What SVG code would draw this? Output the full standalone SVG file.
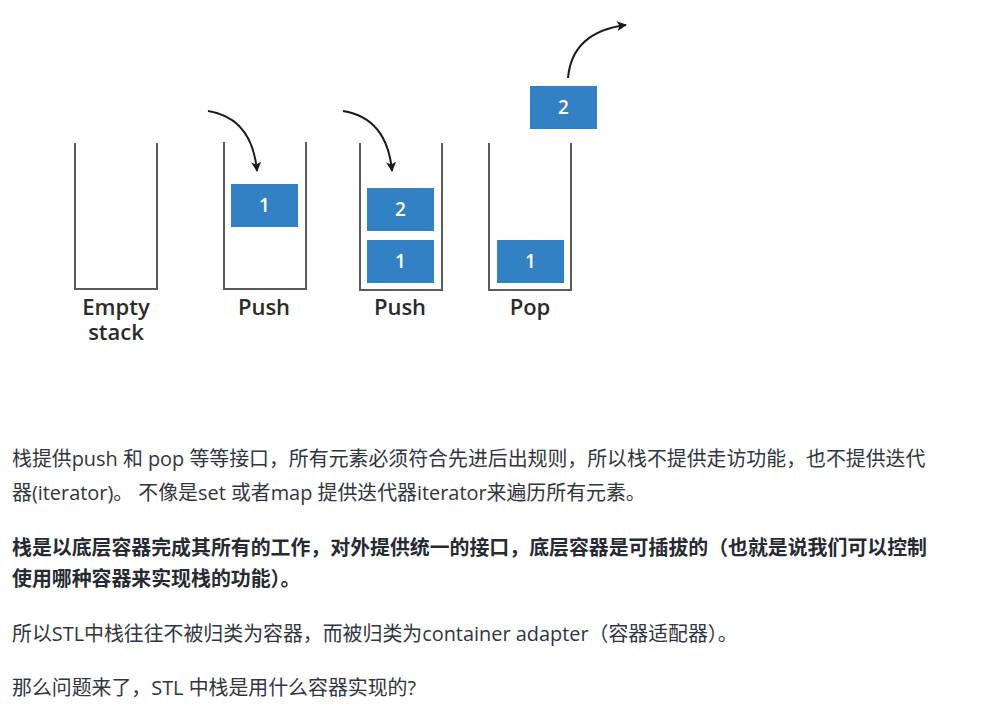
<svg xmlns="http://www.w3.org/2000/svg" width="1000" height="723" viewBox="0 0 1000 723">
<defs>
<marker id="ah" viewBox="0 0 10 10" refX="9" refY="5" markerWidth="10" markerHeight="10" markerUnits="userSpaceOnUse" orient="auto">
<path d="M0,0 L10,5 L0,10 L2.5,5 Z" fill="#1a1a1a"/>
</marker>
</defs>
<style>
.cup{fill:none;stroke:#5a5a5a;stroke-width:2}
.box{fill:#3281c5}
.num{font-family:"Open Sans","DejaVu Sans",sans-serif;font-size:19px;font-weight:600;fill:#ffffff;text-anchor:middle}
.lbl{font-family:"Open Sans","DejaVu Sans",sans-serif;font-size:22px;font-weight:600;fill:#2b2b2b;text-anchor:middle}
.arr{fill:none;stroke:#1a1a1a;stroke-width:2;marker-end:url(#ah)}
.p{font-family:"Open Sans","Noto Sans CJK SC",sans-serif;font-size:19.9px;fill:#30353e}
.b{font-weight:700;fill:#262a32}
</style>
<rect width="1000" height="723" fill="#ffffff"/>
<g id="empty-stack">
<path class="cup" d="M75,143 V289 H157 V143"/>
<text class="lbl" x="116" y="315">Empty<tspan x="116" dy="25">stack</tspan></text>
</g>
<g id="push1">
<path class="cup" d="M224,142 V289 H306 V142"/>
<rect class="box" x="231" y="184" width="67" height="43"/>
<text class="num" x="264.5" y="212">1</text>
<text class="lbl" x="264" y="315">Push</text>
</g>
<g id="push2">
<path class="cup" d="M360,143 V290 H442 V143"/>
<rect class="box" x="367" y="188" width="67" height="43"/>
<text class="num" x="400.5" y="216">2</text>
<rect class="box" x="367" y="240" width="67" height="43"/>
<text class="num" x="400.5" y="268">1</text>
<text class="lbl" x="400" y="315">Push</text>
</g>
<g id="pop">
<path class="cup" d="M489,143 V290 H571 V143"/>
<rect class="box" x="497" y="240" width="67" height="43"/>
<text class="num" x="530.5" y="268">1</text>
<rect class="box" x="530" y="86" width="67" height="43"/>
<text class="num" x="563.5" y="114">2</text>
<text class="lbl" x="530" y="315">Pop</text>
</g>
<g id="connectors">
<path class="arr" d="M208,111 Q252,118 257,171"/>
<path class="arr" d="M343,111 Q387,118 392,171"/>
<path class="arr" d="M568,78 Q572,32 626,25"/>
</g>
<g id="text">
<text class="p" x="12" y="466">栈提供push 和 pop 等等接口，所有元素必须符合先进后出规则，所以栈不提供走访功能，也不提供迭代</text>
<text class="p" x="12" y="500">器(iterator)。 不像是set 或者map 提供迭代器iterator来遍历所有元素。</text>
<text class="p b" x="12" y="555">栈是以底层容器完成其所有的工作，对外提供统一的接口，底层容器是可插拔的（也就是说我们可以控制</text>
<text class="p b" x="12" y="586">使用哪种容器来实现栈的功能）。</text>
<text class="p" x="12" y="641">所以STL中栈往往不被归类为容器，而被归类为container adapter（容器适配器）。</text>
<text class="p" x="12" y="695">那么问题来了，STL 中栈是用什么容器实现的?</text>
</g>
</svg>
